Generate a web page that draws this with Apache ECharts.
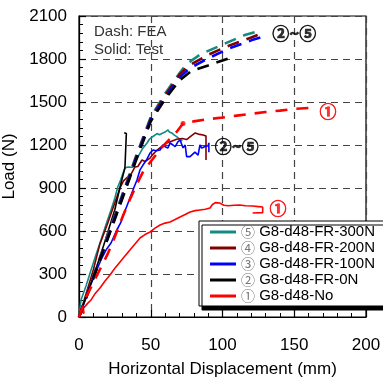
<!DOCTYPE html>
<html><head><meta charset="utf-8">
<script src="https://cdn.jsdelivr.net/npm/echarts@6/dist/echarts.min.js"></script>
<style>html,body{margin:0;padding:0;background:#fff}#c{width:383px;height:382px}</style>
</head><body><div id="c"></div>
<script>
// ---- data (x: horizontal displacement mm, y: load N) ----
const names = ['G8-d48-FR-300N','G8-d48-FR-200N','G8-d48-FR-100N','G8-d48-FR-0N','G8-d48-No'];
const circled = ['⑤','④','③','②','①'];
const colors = ['#138a82','#800000','#0000ff','#000000','#ff0000'];

const test300 = [[0,0],[1.4,119],[5,220],[8.4,328],[12,440],[15.3,537],[19,650],[22.3,746],[25,830],[27,907],[29,956],[30.7,1005],[32,1040],[34,1047],[37.6,1045],[39,1080],[41,1116],[44,1170],[47.4,1214],[49,1240],[51,1256],[54.4,1280],[56,1272],[58.5,1284],[60,1290],[62,1305],[63,1290],[64.6,1284],[66,1272],[68,1258],[70.4,1240],[72,1228]];
const test200 = [[0,0],[3,100],[7,230],[10,330],[14.6,510],[19.5,640],[23.7,760],[28.6,900],[31,950],[34,977],[36.5,1000],[39,1047],[41,1050],[43.9,1095],[46,1085],[49.5,1109],[52,1140],[54.4,1165],[57,1185],[61,1214],[64,1225],[68,1240],[72,1245],[75,1238],[78,1262],[81,1284],[84,1274],[86.5,1270],[88.5,1262],[88.5,1095]];
const test100 = [[0,0],[4,110],[8,220],[12,320],[15.3,398],[19,470],[22.3,516],[26,600],[29,656],[32,740],[35,816],[37.6,886],[40.4,956],[42.5,1026],[44.6,1060],[47,1095],[49.5,1144],[51.6,1165],[54,1160],[56.5,1165],[58.5,1200],[60,1188],[62,1179],[63.4,1214],[65.5,1200],[67,1188],[69,1223],[70.4,1235],[72.5,1180],[74,1200],[75,1119],[77.4,1119],[80.8,1150],[83,1130],[84.3,1200],[85.5,1179],[86.5,1179],[88,1190],[90,1195],[90.5,1215],[90.5,1150]];
const test0 = [[0,0],[5,140],[10,285],[15,430],[20,590],[25,750],[28.6,907],[30.7,990],[32,1040],[33,1030],[33,1280],[31.5,1285]];
const testNo = [[0,0],[2,35],[3.5,25],[3,60],[6,95],[8.4,119],[11,160],[14.6,202],[18,250],[21.6,293],[25,340],[28.6,384],[32,425],[35.5,467],[39,510],[42.5,551],[46,575],[49.5,593],[53,620],[56.5,642],[60,655],[63.4,663],[67,680],[70.4,698],[74,715],[77.4,733],[81,742],[84.3,747],[88,752],[91.3,760],[93,785],[95,798],[98,795],[101,780],[104,776],[108,780],[112,781],[116,776],[121,774],[125,770],[128,767],[128,728],[121,726]];

const fea300 = [[0,0],[10,285],[20,570],[30,850],[40,1130],[50,1395],[60,1560],[70,1700],[75,1765],[85,1835],[100,1900],[115,1965],[125,1995]];
const fea200 = [[0,0],[10,280],[20,560],[30,840],[40,1120],[50,1385],[60,1545],[70,1690],[76,1750],[90,1830],[105,1895],[120,1950],[127,1978]];
const fea100 = [[0,0],[10,275],[20,550],[30,830],[40,1110],[50,1375],[60,1530],[70,1670],[77,1735],[90,1805],[105,1875],[120,1930],[130,1960]];
const fea0 = [[0,0],[10,270],[20,545],[30,820],[40,1100],[50,1365],[60,1520],[70,1650],[78,1715],[90,1755],[105,1807]];
const feaNo = [[0,0],[5,140],[10,240],[15,340],[20,440],[25,560],[30,690],[35,810],[40,920],[45,1020],[50,1085],[58,1186],[68,1291],[72.5,1350],[80,1365],[90,1380],[100,1392],[110,1405],[120,1418],[130,1430],[140,1440],[150,1452],[164,1460]];
const feaNoDot = [[72.5,1350]];

const annotations = [
  {pos:[150,1981], text:'②~⑤', color:'#000'},
  {pos:[110,1186], text:'②~⑤', color:'#000'},
  {pos:[173.5,1430], text:'①', color:'#ff0000'},
  {pos:[138.7,760], text:'①', color:'#ff0000'}
];

const xTicks = {min:0, max:200, interval:50};
const yTicks = {min:0, max:2100, interval:300};

// ---- chart ----
const FONT = 'Liberation Sans';
const chart = echarts.init(document.getElementById('c'), null, {renderer:'canvas'});
const tests = [test300, test200, test100, test0, testNo];
const feas = [fea300, fea200, fea100, fea0, feaNo];

const series = [];
tests.forEach((d, i) => {
  series.push({name:names[i], type:'line', data:d, symbol:'none', animation:false,
    lineStyle:{color:colors[i], width:1.6}, itemStyle:{color:colors[i]}, z:2});
});
feas.forEach((d, i) => {
  series.push({name:'FEA '+names[i], type:'line', data:d, symbol:'none', animation:false,
    lineStyle:{color:colors[i], width:2.6, type:i===4?[12,9]:[12,8]}, z:3});
});
series.push({name:'FEA dot', type:'scatter', data:feaNoDot, symbol:'circle', symbolSize:5,
  itemStyle:{color:'#ff0000'}, animation:false, z:4});
series.push({name:'annot', type:'scatter', animation:false, silent:true, symbolSize:1,
  itemStyle:{color:'rgba(0,0,0,0)'},
  data: annotations.map(a => ({value:a.pos, label:{show:true, position:'inside', formatter:a.text,
    color:a.color, fontSize:17, fontWeight:'bold', fontFamily:'Noto Sans CJK SC',
    textBorderColor:a.color, textBorderWidth:0.7}})), z:5});

const circMap = {};
names.forEach((n,i)=>circMap[n]=circled[i]);

chart.setOption({
  backgroundColor:'#fff',
  animation:false,
  grid:{left:79, right:17, top:16, bottom:65, containLabel:false, outerBoundsMode:'none',
    show:true, borderColor:'#000', borderWidth:1.2, backgroundColor:'transparent'},
  xAxis:{type:'value', min:xTicks.min, max:xTicks.max, interval:xTicks.interval,
    name:'Horizontal Displacement (mm)', nameLocation:'middle', nameGap:44,
    nameTextStyle:{fontSize:17, color:'#000', fontFamily:FONT},
    axisLine:{show:true, lineStyle:{color:'#000', width:1.2}},
    axisTick:{show:true, inside:true, length:7, lineStyle:{color:'#000', width:1.2}},
    minorTick:{show:true, splitNumber:5, length:4, lineStyle:{color:'#000', width:1}},
    axisLabel:{fontSize:17, color:'#000', margin:20, fontFamily:FONT, formatter:v=>String(v)},
    splitLine:{show:true, lineStyle:{color:'#444', width:1.2, type:[7,5]}}},
  yAxis:{type:'value', min:yTicks.min, max:yTicks.max, interval:yTicks.interval,
    name:'Load (N)', nameLocation:'middle', nameGap:45,
    nameTextStyle:{fontSize:17, color:'#000', fontFamily:FONT},
    axisLine:{show:true, lineStyle:{color:'#000', width:1.2}},
    axisTick:{show:true, inside:true, length:7, lineStyle:{color:'#000', width:1.2}},
    minorTick:{show:true, splitNumber:5, length:4, lineStyle:{color:'#000', width:1}},
    axisLabel:{fontSize:17, color:'#000', margin:12, fontFamily:FONT, formatter:v=>String(v)},
    splitLine:{show:true, lineStyle:{color:'#444', width:1.2, type:[7,5]}}},
  legend:{data:names.map(n=>({name:n, icon:'rect'})), orient:'vertical', left:199, top:221, padding:[3,10,2,11],
    itemWidth:26, itemHeight:3, itemGap:0, selectedMode:false,
    backgroundColor:'#fff', borderColor:'#000', borderWidth:1,
    shadowColor:'#000', shadowOffsetX:3, shadowOffsetY:4, shadowBlur:0,
    formatter: n => '{c|' + circMap[n] + '} {t|' + n + '}',
    textStyle:{fontSize:15, lineHeight:16, color:'#000', fontFamily:FONT,
      rich:{c:{fontSize:14, lineHeight:16, color:'#777', fontFamily:'Noto Sans CJK SC'}, t:{fontSize:15, lineHeight:16, color:'#000', fontFamily:FONT}}}},
  graphic:[
    {type:'text', left:94, top:24, style:{text:'Dash: FEA', fontSize:15, fill:'#333', fontFamily:FONT}},
    {type:'text', left:94, top:42, style:{text:'Solid: Test', fontSize:15, fill:'#333', fontFamily:FONT}}
  ],
  series:series
});
</script></body></html>
